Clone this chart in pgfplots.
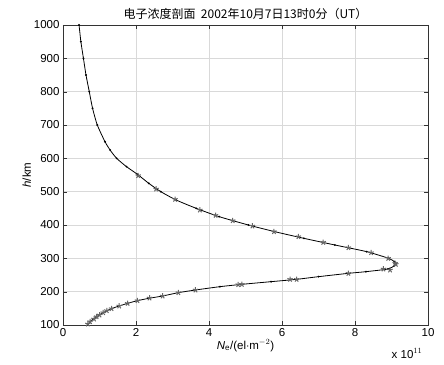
\documentclass[border=0pt]{standalone}
\usepackage{fontspec}
\setmainfont{Liberation Sans}
\newfontfamily\cjk{Noto Sans CJK SC}
\usepackage{pgfplots}
\pgfplotsset{compat=1.18}
\begin{document}
\begin{tikzpicture}
\begin{axis}[
  scale only axis, width=365pt, height=300pt,
  xmin=0, xmax=10, ymin=100, ymax=1000,
  xtick={0,2,4,6,8,10}, ytick={100,200,...,1000},
  tick align=inside, tick pos=both,
  major tick length=4pt,
  grid=major, grid style={gray!30, line width=0.4pt},
  axis line style={black!80, line width=0.8pt},
  tick style={black!80},
  /pgf/number format/assume math mode=true,
  /pgf/number format/1000 sep={},
  ticklabel style={font=\fontsize{11.5}{12}\selectfont},
  title={\cjk\fontsize{12}{14}\selectfont 电子浓度剖面\ \ 2002年10月7日13时0分（UT）},
  title style={yshift=-4pt},
  xlabel={\fontsize{11.5}{12}\selectfont \textit{N}$_{\mathrm{e}}$/(el$\cdot$m$^{-2}$)},
  xlabel style={yshift=4pt},
  ylabel={\fontsize{11.5}{12}\selectfont \textit{h}/km},
  ylabel style={yshift=-4pt},
]
\addplot[black, line width=0.8pt, smooth, tension=0.4, mark=*, mark size=0.5pt] coordinates {
(0.44,1000) (0.49,950) (0.56,900) (0.63,850) (0.72,800) (0.81,750) (0.94,700)
(1.15,650) (1.29,625) (1.47,600) (1.74,575) (2.04,552) (2.35,525) (2.68,500) (3.10,475)
(3.65,450) (4.28,425) (5.08,400) (5.80,380) (6.60,360) (7.45,340) (8.32,320)
(8.92,300) (9.08,290) (9.12,285) (9.08,278) (8.90,268) (8.30,260) (7.82,255)
(7.00,245) (6.40,237) (5.70,230) (4.90,222) (4.30,215) (3.63,205) (3.16,197)
(2.73,187) (2.35,180) (2.04,173) (1.77,165) (1.54,157) (1.33,149) (1.10,137)
(0.92,125) (0.74,110) (0.68,100)
};
\addplot[only marks, black!60, mark=star, mark size=2.8pt, line width=1pt] coordinates {
(2.06,548) (2.55,508) (3.07,477) (3.75,445) (4.18,429) (4.65,413)
(5.19,397) (5.78,380) (6.45,365) (7.13,348) (7.82,332) (8.44,317)
(8.91,300) (9.10,285) (9.12,282) (8.96,265) (8.78,268) (7.82,255)
(6.40,237) (6.22,237) (4.90,222) (4.80,221) (3.63,205) (3.16,197)
(2.73,187) (2.37,181) (2.04,173) (1.77,165) (1.54,157) (1.33,149)
(1.20,143) (1.10,137) (1.00,130) (0.92,125) (0.85,118) (0.74,110) (0.68,103)
};
\coordinate (sw) at (rel axis cs:0,0);
\coordinate (ne) at (rel axis cs:1,1);
\coordinate (se) at (rel axis cs:1,0);
\end{axis}
\node[anchor=north east, font=\fontsize{11.5}{12}\selectfont] at ([xshift=-2pt,yshift=-20pt]se) {x 10$^{11}$};
\pgfresetboundingbox
\useasboundingbox ([xshift=-63pt,yshift=-39pt]sw) rectangle ([xshift=16pt,yshift=25pt]ne);
\end{tikzpicture}
\end{document}
